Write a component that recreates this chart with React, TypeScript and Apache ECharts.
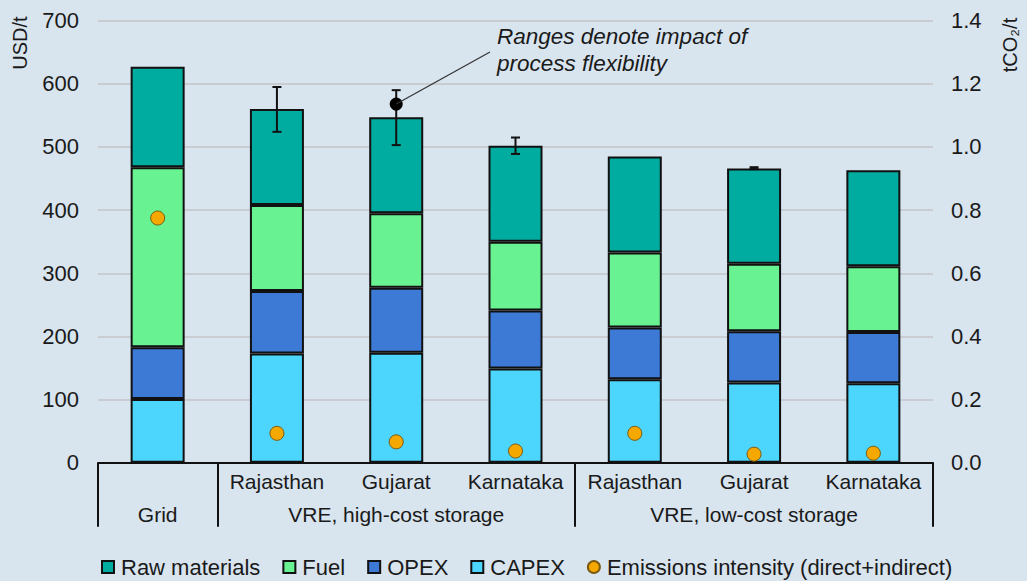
import React, { useEffect, useRef } from "react";
import * as echarts from "echarts";

const categories = ["", "Rajasthan", "Gujarat", "Karnataka", "Rajasthan", "Gujarat", "Karnataka"];
const groupLabels = ["Grid", "", "VRE, high-cost storage", "", "", "VRE, low-cost storage", ""];
const groupStarts = [0, 1, 4];

const capex = [101, 173, 174, 149, 132, 127, 126];
const opex = [82, 99, 103, 92, 82, 81, 81];
const fuel = [285, 136, 118, 109, 119, 107, 104];
const rawMaterials = [159, 152, 152, 152, 152, 151, 152];
const emissions = [0.775, 0.093, 0.066, 0.037, 0.093, 0.027, 0.03];

const rangeIndex = [1, 2, 3, 5];
const rangeLow = [524, 503, 489, 465];
const rangeHigh = [595, 590, 515, 468];

const flexPoint = [2, 568];
const noteText = "Ranges denote impact of\nprocess flexibility";

const FONT = "'Liberation Sans', Arial, sans-serif";
const TXT = "#1a1a1a";

export default function App() {
  const ref = useRef<HTMLDivElement>(null);

  useEffect(() => {
    if (!ref.current) return;
    const chart = echarts.init(ref.current, undefined, { renderer: "svg" });

    const barStyle = (color: string) => ({
      color,
      borderColor: "#111",
      borderWidth: 2,
    });

    const option: any = {
      animation: false,
      backgroundColor: "#d8e4ee",
      textStyle: { fontFamily: FONT, color: TXT },
      grid: { left: 98, right: 94, top: 20.7, bottom: 118.3, containLabel: false },
      legend: {
        left: 96,
        top: 551,
        itemWidth: 12,
        itemHeight: 12,
        itemGap: 22,
        textStyle: { fontSize: 22, color: TXT, fontFamily: FONT, padding: [0, 0, 0, 2] },
        data: [
          { name: "Raw materials", icon: "rect" },
          { name: "Fuel", icon: "rect" },
          { name: "OPEX", icon: "rect" },
          { name: "CAPEX", icon: "rect" },
          { name: "Emissions intensity (direct+indirect)", icon: "circle" },
        ],
      },
      xAxis: [
        {
          type: "category",
          data: categories,
          gridIndex: 0,
          position: "bottom",
          axisLine: { show: true, lineStyle: { color: "#111", width: 2 } },
          axisTick: { show: false },
          axisLabel: { fontSize: 21, color: TXT, margin: 8, interval: 0, fontFamily: FONT },
        },
        {
          type: "category",
          data: groupLabels,
          gridIndex: 0,
          position: "bottom",
          offset: 0,
          axisLine: { show: false },
          axisTick: {
            show: true,
            length: 64,
            interval: (i: number) => groupStarts.indexOf(i) >= 0,
            lineStyle: { color: "#111", width: 2 },
          },
          axisLabel: { fontSize: 21, color: TXT, margin: 41, interval: 0, fontFamily: FONT },
        },
      ],
      yAxis: [
        {
          type: "value",
          min: 0,
          max: 700,
          interval: 100,
          axisLine: { show: false },
          axisTick: { show: false },
          axisLabel: { fontSize: 22, color: TXT, margin: 19, fontFamily: FONT },
          splitLine: { show: true, lineStyle: { color: "#c9cdd1", width: 2 } },
        },
        {
          type: "value",
          min: 0,
          max: 1.4,
          interval: 0.2,
          position: "right",
          axisLine: { show: false },
          axisTick: { show: false },
          axisLabel: {
            fontSize: 22,
            color: TXT,
            margin: 18,
            fontFamily: FONT,
            formatter: (v: number) => v.toFixed(1),
          },
          splitLine: { show: false },
        },
      ],
      series: [
        { name: "CAPEX", type: "bar", stack: "cost", barWidth: 54, data: capex, itemStyle: barStyle("#4cd5fd") },
        { name: "OPEX", type: "bar", stack: "cost", barWidth: 54, data: opex, itemStyle: barStyle("#3d7ad6") },
        { name: "Fuel", type: "bar", stack: "cost", barWidth: 54, data: fuel, itemStyle: barStyle("#69f291") },
        { name: "Raw materials", type: "bar", stack: "cost", barWidth: 54, data: rawMaterials, itemStyle: barStyle("#00ab9f") },
        {
          name: "ranges",
          type: "custom",
          xAxisIndex: 0,
          yAxisIndex: 0,
          z: 5,
          data: rangeIndex.map((x, i) => [x, rangeLow[i], rangeHigh[i]]),
          renderItem: (params: any, api: any) => {
            const lo = api.coord([api.value(0), api.value(1)]);
            const hi = api.coord([api.value(0), api.value(2)]);
            const hw = 4.5;
            const style = { stroke: "#111", lineWidth: 2 };
            return {
              type: "group",
              children: [
                { type: "line", shape: { x1: lo[0], y1: lo[1], x2: hi[0], y2: hi[1] }, style },
                { type: "line", shape: { x1: lo[0] - hw, y1: lo[1], x2: lo[0] + hw, y2: lo[1] }, style },
                { type: "line", shape: { x1: hi[0] - hw, y1: hi[1], x2: hi[0] + hw, y2: hi[1] }, style },
              ],
            };
          },
        },
        {
          name: "flex",
          type: "scatter",
          xAxisIndex: 0,
          yAxisIndex: 0,
          z: 6,
          symbolSize: 13,
          data: [flexPoint],
          itemStyle: { color: "#000", opacity: 1 },
        },
        {
          name: "Emissions intensity (direct+indirect)",
          type: "scatter",
          xAxisIndex: 0,
          yAxisIndex: 1,
          z: 6,
          symbolSize: 14,
          data: emissions.map((v, i) => [i, v]),
          itemStyle: { color: "#f5a800", borderColor: "#7a5a10", borderWidth: 1, opacity: 1 },
        },
      ],
    };

    chart.setOption(option);

    const p = chart.convertToPixel({ xAxisIndex: 0, yAxisIndex: 0 }, flexPoint) as number[];
    chart.setOption({
      graphic: [
        {
          type: "text",
          x: 20,
          y: 43,
          rotation: Math.PI / 2,
          style: { text: "USD/t", font: `20px ${FONT}`, fill: TXT, align: "center", verticalAlign: "middle" },
        },
        {
          type: "text",
          x: 1010,
          y: 45,
          rotation: Math.PI / 2,
          style: { text: "tCO\u2082/t", font: `20px ${FONT}`, fill: TXT, align: "center", verticalAlign: "middle" },
        },
        {
          type: "text",
          x: 497,
          y: 23,
          style: { text: noteText, font: `italic 22.5px ${FONT}`, fill: TXT, lineHeight: 27 },
        },
        {
          type: "line",
          z: 10,
          shape: { x1: 490, y1: 52, x2: p[0], y2: p[1] },
          style: { stroke: "#333", lineWidth: 1.2 },
        },
      ],
    });

    return () => chart.dispose();
  }, []);

  return (
    <div
      ref={ref}
      style={{ position: "fixed", left: 0, top: 0, width: 1027, height: 581 }}
    />
  );
}
